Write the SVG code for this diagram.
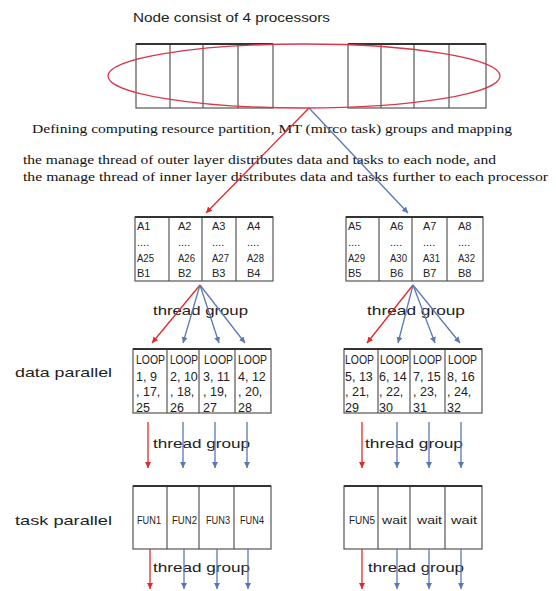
<svg xmlns="http://www.w3.org/2000/svg" width="556" height="591" viewBox="0 0 556 591">
<style>
.sans{font-family:"Liberation Sans",Arial,sans-serif;fill:#222}
.serif{font-family:"Liberation Serif","Times New Roman",serif;fill:#111;font-size:13px}
.lbl{font-size:13px}
.cell{font-size:11px}
.loop{font-size:12.5px}
.tbl{fill:#fff;stroke:#555;stroke-width:1.2}
.top{stroke:#333;stroke-width:1.8}
.div{stroke:#555;stroke-width:1.2}
.red{stroke:#e02a2a;stroke-width:1.3;fill:none}
.blue{stroke:#5b78b4;stroke-width:1.3;fill:none}
</style>
<defs>
<marker id="ar" markerUnits="userSpaceOnUse" markerWidth="7" markerHeight="7" refX="6" refY="3" orient="auto"><path d="M0,0 L6,3 L0,6 z" fill="#e02a2a"/></marker>
<marker id="ab" markerUnits="userSpaceOnUse" markerWidth="7" markerHeight="7" refX="6" refY="3" orient="auto"><path d="M0,0 L6,3 L0,6 z" fill="#5b78b4"/></marker>
</defs>
<rect width="556" height="591" fill="#fff"/>

<g id="title"><text class="sans lbl" x="133" y="22" textLength="197" lengthAdjust="spacingAndGlyphs">Node consist of 4 processors</text></g>

<g id="node-top">
<rect class="tbl" x="136" y="44" width="137" height="64" stroke="#444"/>
<line class="div" x1="170" y1="44" x2="170" y2="108"/><line class="div" x1="203" y1="44" x2="203" y2="108"/><line class="div" x1="238" y1="44" x2="238" y2="108"/>
<rect class="tbl" x="348" y="44" width="138" height="64" stroke="#444"/>
<line class="div" x1="381" y1="44" x2="381" y2="108"/><line class="div" x1="414" y1="44" x2="414" y2="108"/><line class="div" x1="449" y1="44" x2="449" y2="108"/>
<line class="top" x1="136" y1="44" x2="273" y2="44"/><line class="top" x1="348" y1="44" x2="486" y2="44"/>
<ellipse cx="304" cy="76" rx="196" ry="32" fill="none" stroke="#d8384a" stroke-width="1.3"/>
</g>

<g id="descriptions">
<text class="serif" x="32" y="133" textLength="480" lengthAdjust="spacingAndGlyphs">Defining computing resource partition, MT (mirco task) groups and mapping</text>
<text class="serif" x="23" y="164" textLength="473" lengthAdjust="spacingAndGlyphs">the manage thread of outer layer distributes data and tasks to each node, and</text>
<text class="serif" x="23" y="181" textLength="525" lengthAdjust="spacingAndGlyphs">the manage thread of inner layer distributes data and tasks further to each processor</text>
</g>

<g id="data-left">
<rect class="tbl" x="135" y="217" width="138" height="64"/>
<line class="div" x1="169" y1="217" x2="169" y2="281"/><line class="div" x1="202" y1="217" x2="202" y2="281"/><line class="div" x1="236" y1="217" x2="236" y2="281"/>
<line class="top" x1="135" y1="217" x2="273" y2="217"/>
<g class="sans cell">
<text x="137" y="230">A1</text><text x="178" y="230">A2</text><text x="212" y="230">A3</text><text x="247" y="230">A4</text>
<text x="137" y="246">....</text><text x="178" y="246">....</text><text x="212" y="246">....</text><text x="247" y="246">....</text>
<text x="137" y="262" textLength="17" lengthAdjust="spacingAndGlyphs">A25</text><text x="178" y="262" textLength="17" lengthAdjust="spacingAndGlyphs">A26</text><text x="212" y="262" textLength="17" lengthAdjust="spacingAndGlyphs">A27</text><text x="247" y="262" textLength="17" lengthAdjust="spacingAndGlyphs">A28</text>
<text x="137" y="277">B1</text><text x="178" y="277">B2</text><text x="212" y="277">B3</text><text x="247" y="277">B4</text>
</g>
</g>

<g id="data-right">
<rect class="tbl" x="346" y="217" width="137" height="64"/>
<line class="div" x1="379" y1="217" x2="379" y2="281"/><line class="div" x1="412" y1="217" x2="412" y2="281"/><line class="div" x1="447" y1="217" x2="447" y2="281"/>
<line class="top" x1="346" y1="217" x2="483" y2="217"/>
<g class="sans cell">
<text x="348" y="230">A5</text><text x="390" y="230">A6</text><text x="423" y="230">A7</text><text x="458" y="230">A8</text>
<text x="348" y="246">....</text><text x="390" y="246">....</text><text x="423" y="246">....</text><text x="458" y="246">....</text>
<text x="348" y="262" textLength="17" lengthAdjust="spacingAndGlyphs">A29</text><text x="390" y="262" textLength="17" lengthAdjust="spacingAndGlyphs">A30</text><text x="423" y="262" textLength="17" lengthAdjust="spacingAndGlyphs">A31</text><text x="458" y="262" textLength="17" lengthAdjust="spacingAndGlyphs">A32</text>
<text x="348" y="277">B5</text><text x="390" y="277">B6</text><text x="423" y="277">B7</text><text x="458" y="277">B8</text>
</g>
</g>

<g id="labels" class="sans lbl">
<text x="153" y="315" textLength="95" lengthAdjust="spacingAndGlyphs">thread group</text>
<text x="367" y="315" textLength="98" lengthAdjust="spacingAndGlyphs">thread group</text>
<text x="15" y="377" textLength="97" lengthAdjust="spacingAndGlyphs">data parallel</text>
<text x="153" y="448" textLength="97" lengthAdjust="spacingAndGlyphs">thread group</text>
<text x="365" y="448" textLength="98" lengthAdjust="spacingAndGlyphs">thread group</text>
<text x="15" y="525" textLength="97" lengthAdjust="spacingAndGlyphs">task parallel</text>
<text x="153" y="572" textLength="97" lengthAdjust="spacingAndGlyphs">thread group</text>
<text x="368" y="572" textLength="96" lengthAdjust="spacingAndGlyphs">thread group</text>
</g>

<g id="loop-left">
<rect class="tbl" x="133" y="349" width="138" height="64"/>
<line class="div" x1="167" y1="349" x2="167" y2="413"/><line class="div" x1="199" y1="349" x2="199" y2="413"/><line class="div" x1="235" y1="349" x2="235" y2="413"/>
<line class="top" x1="133" y1="349" x2="271" y2="349"/>
<g class="sans loop">
<text x="136" y="364" textLength="29" lengthAdjust="spacingAndGlyphs">LOOP</text><text x="170" y="364" textLength="28" lengthAdjust="spacingAndGlyphs">LOOP</text><text x="204" y="364" textLength="29" lengthAdjust="spacingAndGlyphs">LOOP</text><text x="238" y="364" textLength="29" lengthAdjust="spacingAndGlyphs">LOOP</text>
<text x="136" y="381">1, 9</text><text x="170" y="381">2, 10</text><text x="203" y="381">3, 11</text><text x="238" y="381">4, 12</text>
<text x="136" y="396">, 17,</text><text x="170" y="396">, 18,</text><text x="203" y="396">, 19,</text><text x="238" y="396">, 20,</text>
<text x="136" y="412">25</text><text x="170" y="412">26</text><text x="203" y="412">27</text><text x="238" y="412">28</text>
</g>
</g>

<g id="loop-right">
<rect class="tbl" x="344" y="349" width="138" height="64"/>
<line class="div" x1="378" y1="349" x2="378" y2="413"/><line class="div" x1="410" y1="349" x2="410" y2="413"/><line class="div" x1="445" y1="349" x2="445" y2="413"/>
<line class="top" x1="344" y1="349" x2="482" y2="349"/>
<g class="sans loop">
<text x="345" y="364" textLength="29" lengthAdjust="spacingAndGlyphs">LOOP</text><text x="380" y="364" textLength="29" lengthAdjust="spacingAndGlyphs">LOOP</text><text x="413" y="364" textLength="29" lengthAdjust="spacingAndGlyphs">LOOP</text><text x="448" y="364" textLength="29" lengthAdjust="spacingAndGlyphs">LOOP</text>
<text x="345" y="381">5, 13</text><text x="379" y="381">6, 14</text><text x="413" y="381">7, 15</text><text x="447" y="381">8, 16</text>
<text x="345" y="396">, 21,</text><text x="379" y="396">, 22,</text><text x="413" y="396">, 23,</text><text x="447" y="396">, 24,</text>
<text x="345" y="412">29</text><text x="379" y="412">30</text><text x="413" y="412">31</text><text x="447" y="412">32</text>
</g>
</g>

<g id="task-left">
<rect class="tbl" x="133" y="486" width="138" height="63"/>
<line class="div" x1="167" y1="486" x2="167" y2="549"/><line class="div" x1="199" y1="486" x2="199" y2="549"/><line class="div" x1="234" y1="486" x2="234" y2="549"/>
<line class="top" x1="133" y1="486" x2="271" y2="486"/>
<g class="sans cell">
<text x="137" y="524" textLength="24" lengthAdjust="spacingAndGlyphs">FUN1</text><text x="172" y="524" textLength="25" lengthAdjust="spacingAndGlyphs">FUN2</text><text x="206" y="524" textLength="24" lengthAdjust="spacingAndGlyphs">FUN3</text><text x="240" y="524" textLength="24" lengthAdjust="spacingAndGlyphs">FUN4</text>
</g>
</g>

<g id="task-right">
<rect class="tbl" x="344" y="486" width="138" height="63"/>
<line class="div" x1="378" y1="486" x2="378" y2="549"/><line class="div" x1="410" y1="486" x2="410" y2="549"/><line class="div" x1="445" y1="486" x2="445" y2="549"/>
<line class="top" x1="344" y1="486" x2="482" y2="486"/>
<g class="sans cell">
<text x="349" y="524" textLength="26" lengthAdjust="spacingAndGlyphs">FUN5</text><text x="382" y="524" textLength="25" lengthAdjust="spacingAndGlyphs">wait</text><text x="417" y="524" textLength="25" lengthAdjust="spacingAndGlyphs">wait</text><text x="451" y="524" textLength="26" lengthAdjust="spacingAndGlyphs">wait</text>
</g>
</g>

<g id="connectors">
<line class="red" x1="309" y1="108" x2="206" y2="213" marker-end="url(#ar)"/>
<line class="blue" x1="309" y1="108" x2="408" y2="213" marker-end="url(#ab)"/>

<line class="red" x1="200" y1="285" x2="152" y2="343" marker-end="url(#ar)"/>
<line class="blue" x1="200" y1="285" x2="183" y2="343" marker-end="url(#ab)"/>
<line class="blue" x1="200" y1="285" x2="219" y2="343" marker-end="url(#ab)"/>
<line class="blue" x1="200" y1="285" x2="245" y2="343" marker-end="url(#ab)"/>

<line class="red" x1="413" y1="285" x2="367" y2="343" marker-end="url(#ar)"/>
<line class="blue" x1="413" y1="285" x2="398" y2="343" marker-end="url(#ab)"/>
<line class="blue" x1="413" y1="285" x2="435" y2="343" marker-end="url(#ab)"/>
<line class="blue" x1="413" y1="285" x2="460" y2="343" marker-end="url(#ab)"/>

<line class="red" x1="148" y1="422" x2="148" y2="468" marker-end="url(#ar)"/>
<line class="blue" x1="183" y1="422" x2="183" y2="468" marker-end="url(#ab)"/>
<line class="blue" x1="215" y1="422" x2="215" y2="468" marker-end="url(#ab)"/>
<line class="blue" x1="247" y1="422" x2="247" y2="468" marker-end="url(#ab)"/>

<line class="red" x1="362" y1="422" x2="362" y2="468" marker-end="url(#ar)"/>
<line class="blue" x1="397" y1="422" x2="397" y2="468" marker-end="url(#ab)"/>
<line class="blue" x1="429" y1="422" x2="429" y2="468" marker-end="url(#ab)"/>
<line class="blue" x1="461" y1="422" x2="461" y2="468" marker-end="url(#ab)"/>

<line class="red" x1="150" y1="549" x2="150" y2="589" marker-end="url(#ar)"/>
<line class="blue" x1="184" y1="549" x2="184" y2="589" marker-end="url(#ab)"/>
<line class="blue" x1="217" y1="549" x2="217" y2="589" marker-end="url(#ab)"/>
<line class="blue" x1="248" y1="549" x2="248" y2="589" marker-end="url(#ab)"/>

<line class="red" x1="362" y1="549" x2="362" y2="589" marker-end="url(#ar)"/>
<line class="blue" x1="397" y1="549" x2="397" y2="589" marker-end="url(#ab)"/>
<line class="blue" x1="429" y1="549" x2="429" y2="589" marker-end="url(#ab)"/>
<line class="blue" x1="461" y1="549" x2="461" y2="589" marker-end="url(#ab)"/>
</g>
</svg>
